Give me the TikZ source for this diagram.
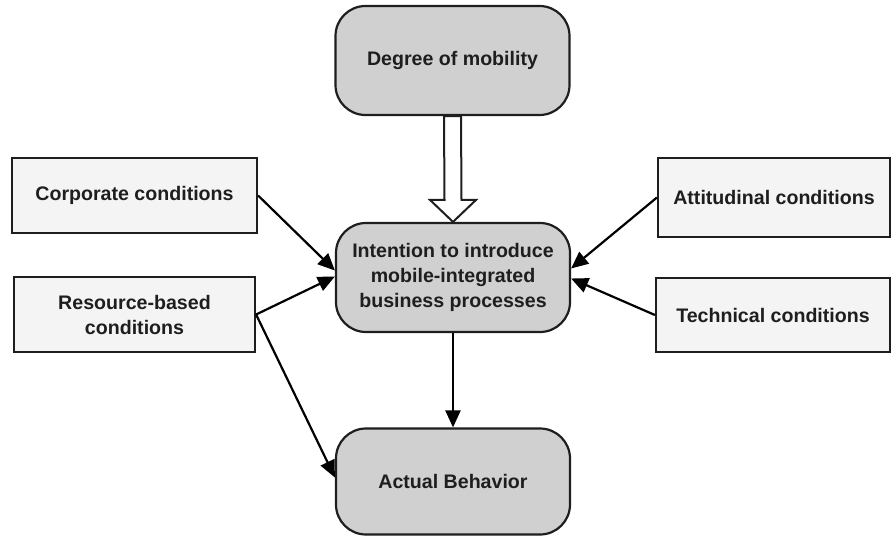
\documentclass[tikz,border=0pt]{standalone}
\usepackage{fontspec}
\setmainfont{Liberation Sans}
\usetikzlibrary{arrows.meta,calc}
\definecolor{roundfill}{HTML}{D0D0D0}
\definecolor{boxfill}{HTML}{F4F4F4}
\definecolor{inkgray}{HTML}{1E1E1E}
\begin{document}
\begin{tikzpicture}[x=1pt,y=-1pt,
  every node/.style={font=\fontsize{19.6}{25}\selectfont\bfseries, text=inkgray, align=center, inner sep=0pt},
  roundbox/.style={draw=inkgray, line width=2.2pt, fill=roundfill, rounded corners=30pt, minimum width=234pt},
  condbox/.style={draw=inkgray, line width=2.2pt, fill=boxfill},
  link/.style={draw=black, line width=2.2pt, -{Triangle[length=17pt,width=15pt]}}]
\useasboundingbox (0,0) rectangle (892,539);

% central chain
\node[roundbox, minimum height=109pt] (mob) at (452.5,60.5) {Degree of mobility};
\node[roundbox, minimum height=109pt] (int) at (453,277.5) {Intention to introduce\\mobile-integrated\\business processes};
\node[roundbox, minimum height=106pt] (act) at (453,481.5) {Actual Behavior};

% condition boxes
\node[condbox, minimum width=245pt, minimum height=75pt] (corp) at (134.5,195.5) {Corporate conditions};
\node[condbox, minimum width=241pt, minimum height=75pt] (res) at (134.5,314.5) {Resource-based\\conditions};
\node[condbox, minimum width=232pt, minimum height=79pt] (att) at (774,197.5) {Attitudinal conditions};
\node[condbox, minimum width=234pt, minimum height=74pt] (tech) at (773,315) {Technical conditions};

% hollow block arrow from mobility to intention
\coordinate (ha) at (mob.south);
\coordinate (hb) at (int.north);
\draw[draw=inkgray, line width=2pt, fill=white, line join=miter]
  ($(ha)+(-8.5,0)$) -- ($(ha)+(8.5,0)$) -- ($(hb)+(8.5,-22)$) -- ($(hb)+(23,-22)$)
  -- (hb) -- ($(hb)+(-23,-22)$) -- ($(hb)+(-8.5,-22)$) -- cycle;

% influence arrows
\draw[link] (corp.east) -- ($(int.west)+(0,-7)$);
\draw[link] (res.east) -- ($(int.west)+(0,-1)$);
\draw[link] (res.east) -- ($(act.west)+(0,-4)$);
\draw[link] (att.west) -- ($(int.east)+(0,-9)$);
\draw[link] (tech.west) -- ($(int.east)+(0,1)$);
\draw[link] (int.south) -- (act.north);
\end{tikzpicture}
\end{document}
